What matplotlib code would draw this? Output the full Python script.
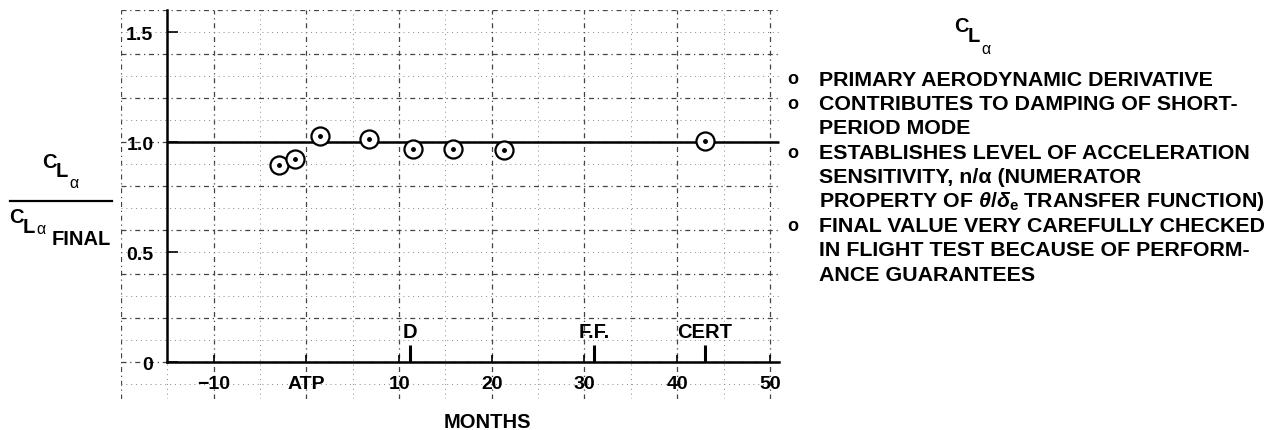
"""
C_L_alpha ratio vs months chart (scanned report figure)
"""
import matplotlib
matplotlib.use("Agg")
import matplotlib.pyplot as plt
from matplotlib.lines import Line2D
import numpy as np

# data
months = [-3.0, -1.2, 1.5, 6.7, 11.5, 15.8, 21.3, 43.0]
ratio = [0.895, 0.922, 1.027, 1.015, 0.968, 0.968, 0.965, 1.006]
final_ratio = 1.0

event_names = ["D", "F.F.", "CERT"]
event_months = [11.2, 31.0, 43.0]

x_ticks = [-10, 0, 10, 20, 30, 40, 50]
x_tick_labels = ["\u221210", "ATP", "10", "20", "30", "40", "50"]
y_ticks = [0, 0.5, 1.0, 1.5]
y_tick_labels = ["0", "0.5", "1.0", "1.5"]

notes = [
    ("o", "PRIMARY AERODYNAMIC DERIVATIVE"),
    ("o", "CONTRIBUTES TO DAMPING OF SHORT-"),
    ("", "PERIOD MODE"),
    ("o", "ESTABLISHES LEVEL OF ACCELERATION"),
    ("", "SENSITIVITY, n/\u03b1 (NUMERATOR"),
    ("", r"PROPERTY OF $\theta/\delta_{\mathbf{e}}$ TRANSFER FUNCTION)"),
    ("o", "FINAL VALUE VERY CAREFULLY CHECKED"),
    ("", "IN FLIGHT TEST BECAUSE OF PERFORM-"),
    ("", "ANCE GUARANTEES"),
]

plt.rcParams["font.family"] = ["Liberation Sans", "DejaVu Sans"]
plt.rcParams["font.weight"] = "bold"
plt.rcParams["mathtext.fontset"] = "custom"
plt.rcParams["mathtext.rm"] = "Liberation Sans:bold"
plt.rcParams["mathtext.bf"] = "Liberation Sans:bold"
plt.rcParams["mathtext.it"] = "Liberation Sans:italic"

W, H = 1278, 431
fig = plt.figure(figsize=(W / 100, H / 100), dpi=100)
ax = fig.add_axes([121 / W, 30.6 / H, 660 / W, 389.4 / H])
ax.set_xlim(-20, 51.2)
ax.set_ylim(-0.168, 1.6)


def ptext(x, y, s, **kw):
    """Place text at page pixel coords (y downwards)."""
    kw.setdefault("ha", "center")
    kw.setdefault("va", "center")
    kw.setdefault("fontweight", "bold")
    return fig.text(x / W, 1 - y / H, s, **kw)


def cl_alpha(x, y, alpha_dy=22):
    """C with L subscript and alpha sub-subscript, like the typed original."""
    ptext(x, y, "C", fontsize=14.5)
    ptext(x + 13, y + 10, "L", fontsize=14.5)
    ptext(x + 25, y + alpha_dy, "\u03b1", fontsize=11.5, fontweight="normal")


# graph paper grid (faint, dotted)
for v in np.arange(-20, 51, 5):
    major = v % 10 == 0
    ax.axvline(v, color="#444444" if major else "#888888",
               lw=0.9 if major else 0.7,
               ls=(0, (4, 3, 1, 3)) if major else (0, (1, 4)), zorder=0)
for v in np.arange(-0.1, 1.61, 0.1):
    major = round(v * 10) % 2 == 0
    ax.axhline(v, color="#444444" if major else "#888888",
               lw=0.9 if major else 0.7,
               ls=(0, (4, 3, 1, 3)) if major else (0, (1, 4)), zorder=0)

# axes lines
for side in ["top", "right"]:
    ax.spines[side].set_visible(False)
ax.spines["left"].set_position(("data", -15))
ax.spines["left"].set_bounds(0, 1.6)
ax.spines["bottom"].set_position(("data", 0))
ax.spines["bottom"].set_bounds(-15, 51)
for side in ["left", "bottom"]:
    ax.spines[side].set_linewidth(1.8)

ax.set_xticks(x_ticks)
ax.set_xticklabels(x_tick_labels, fontsize=14, fontweight="bold")
ax.set_yticks(y_ticks)
ax.set_yticklabels(y_tick_labels, fontsize=14, fontweight="bold")
ax.tick_params(axis="x", direction="in", length=5, width=1.2, pad=9)
ax.tick_params(axis="y", direction="in", length=8, width=1.2, pad=10)

# final-value reference line
ax.hlines(final_ratio, -15, 51, color="black", lw=1.8, zorder=2)

# milestone ticks
ax.vlines(event_months, 0, 0.08, color="black", lw=2.2, zorder=3)
for name, m in zip(event_names, event_months):
    ax.text(m, 0.14, name, ha="center", va="center", fontsize=14.5,
            fontweight="bold")

# data points: open circles with center dot
ax.plot(months, ratio, "o", ms=13, mfc="white", mec="black", mew=1.6, zorder=4)
ax.plot(months, ratio, "o", ms=2.5, color="black", zorder=5)

ptext(487, 423, "MONTHS", fontsize=14.5)

# y-axis label as a fraction
cl_alpha(49, 162)
fig.add_artist(Line2D([10 / W, 112 / W], [1 - 202 / H, 1 - 202 / H],
                      color="black", lw=1.6))
cl_alpha(16, 218, alpha_dy=12)
ptext(81, 240, "FINAL", fontsize=14.5)

# notes on the right
cl_alpha(961, 27)
for i, (bullet, line) in enumerate(notes):
    y = 80 + i * 24.4
    if bullet:
        ptext(793, y, bullet, fontsize=13)
    ptext(819, y, line, ha="left", fontsize=15.4)

fig.savefig("out.png", dpi=100)
plt.close(fig)
